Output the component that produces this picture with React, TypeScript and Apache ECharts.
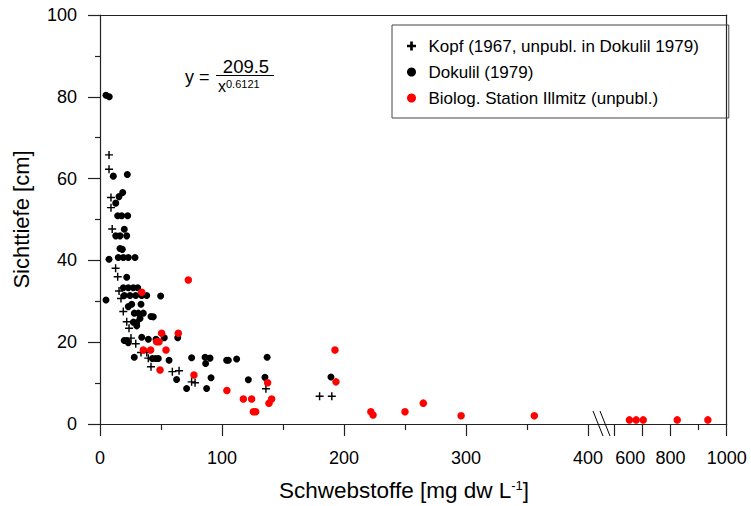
import React, { useEffect, useRef } from "react";
import * as echarts from "echarts";

const FONT = "'Liberation Sans', Arial, sans-serif";

// Kopf (1967, unpubl. in Dokulil 1979)
const KOPF_X = [7.4, 7.4, 9, 9, 10, 12.8, 14.5, 15.6, 17.2, 19.1, 21.9, 23.8, 25.4, 29.3, 33.6, 38.3, 39.6, 41.8, 59.3, 64.8, 75.1, 77.9, 136, 180, 190];
const KOPF_Y = [65.8, 62.3, 55.4, 52.9, 47.7, 38.1, 36.0, 32.5, 30.7, 27.5, 25.0, 23.4, 21.0, 19.6, 17.5, 17.5, 16.1, 14.0, 12.8, 13.0, 10.3, 10.1, 8.6, 6.8, 6.8];

// Dokulil (1979)
const DOK_X = [4.9, 7.6, 10.9, 22.4, 18.6, 15.6, 12.9, 14.5, 17.8, 22.7, 19.9, 12.9, 16.4, 21.9, 16.4, 18.3, 7.4, 15.0, 19.1, 23.2, 28.7, 21.9, 19.1, 23.2, 27.3, 30.9, 4.9, 19.9, 24.6, 29.3, 34.2, 38.3, 49.7, 23.2, 26.0, 33.6, 28.1, 31.4, 35.5, 41.8, 43.7, 32.8, 27.3, 30.1, 30.1, 19.9, 21.9, 23.2, 34.2, 39.6, 45.9, 52.7, 63.7, 28.1, 42.9, 45.6, 47.8, 56.6, 75.1, 86.1, 90.2, 86.6, 103.8, 105.2, 112, 137, 62.8, 91, 121.6, 135.2, 189.3, 71, 87.4];
const DOK_Y = [80.4, 80.0, 60.6, 61.0, 56.6, 55.6, 54.0, 50.9, 50.9, 50.9, 47.6, 46.0, 46.0, 46.0, 42.9, 42.7, 40.3, 40.7, 40.7, 40.7, 40.7, 35.9, 33.3, 33.3, 33.3, 33.3, 30.3, 31.4, 31.4, 31.4, 31.4, 31.4, 31.3, 28.7, 29.3, 29.3, 27.1, 27.1, 27.1, 26.3, 26.2, 25.8, 24.9, 24.8, 24.0, 20.4, 20.4, 19.9, 21.2, 20.7, 20.7, 21.1, 21.1, 16.3, 16.0, 16.0, 16.0, 15.6, 16.2, 16.3, 16.1, 14.8, 15.6, 15.6, 15.9, 16.3, 10.9, 11.3, 10.8, 11.4, 11.5, 8.7, 8.7];

// Biolog. Station Illmitz (unpubl.) – left segment (0–410)
const BIO_X = [72.4, 34.2, 50.5, 64.2, 46.4, 48.4, 35.5, 41.5, 54.1, 49.2, 77.0, 104, 117.5, 124.3, 125.7, 127.6, 137.4, 138.5, 140.7, 192.6, 193.4, 222, 223.8, 250, 265, 296, 356];
const BIO_Y = [35.2, 32.2, 22.2, 22.2, 20.1, 20.1, 18.1, 18.1, 18.1, 13.2, 12.0, 8.2, 6.1, 6.1, 3.0, 3.0, 10.1, 5.1, 6.1, 18.1, 10.3, 3.0, 2.2, 3.0, 5.1, 2.0, 2.0];
// right segment (550–1000)
const BIO_X2 = [654, 678, 703, 824, 933];
const BIO_Y2 = [1, 1, 1, 1, 1];

const X1_MAJOR = [0, 100, 200, 300, 400];
const X1_MINOR = [50, 150, 250, 350];
const X2_MAJOR = [600, 700, 800, 1000];
const X2_MINOR = [900];
const X2_LABELS = [600, 800, 1000];

const NAME_KOPF = "Kopf (1967, unpubl. in Dokulil 1979)";
const NAME_DOK = "Dokulil (1979)";
const NAME_BIO = "Biolog. Station Illmitz (unpubl.)";

const zip = (xs: number[], ys: number[]) => xs.map((x, i) => [x, ys[i]]);

const PLUS = "path://M4.1,0H5.9V4.1H10V5.9H5.9V10H4.1V5.9H0V4.1H4.1Z";
const PLUS_BOLD = "path://M3.5,0H6.5V3.5H10V6.5H6.5V10H3.5V6.5H0V3.5H3.5Z";

const AXIS_COLOR = "#222";

export default function App() {
  const ref = useRef<HTMLDivElement>(null);
  useEffect(() => {
    const chart = echarts.init(ref.current!, null, { renderer: "svg" });
    const lineStyle = { color: AXIS_COLOR, width: 1.2 };
    const labelBase = { fontFamily: FONT, fontSize: 18, color: "#000" };
    const option: any = {
      animation: false,
      backgroundColor: "#fff",
      grid: [
        { left: 100, top: 15, width: 500.2, height: 409 },
        { left: 600.2, top: 15, width: 126.5, height: 409 },
      ],
      xAxis: [
        {
          type: "value", gridIndex: 0, position: "bottom", min: 0, max: 410,
          axisLine: { show: true, onZero: false, lineStyle },
          axisTick: { show: true, customValues: X1_MAJOR, length: 12, lineStyle },
          axisLabel: { show: true, customValues: X1_MAJOR, margin: 25, ...labelBase },
          splitLine: { show: false },
        },
        {
          type: "value", gridIndex: 0, position: "bottom", min: 0, max: 410,
          axisLine: { show: false, onZero: false },
          axisTick: { show: true, customValues: X1_MINOR, length: 6, lineStyle },
          axisLabel: { show: false },
          splitLine: { show: false },
        },
        {
          type: "value", gridIndex: 0, position: "top", min: 0, max: 410,
          axisLine: { show: true, onZero: false, lineStyle },
          axisTick: { show: false }, axisLabel: { show: false }, splitLine: { show: false },
        },
        {
          type: "value", gridIndex: 1, position: "bottom", min: 550, max: 1000,
          axisLine: { show: true, onZero: false, lineStyle },
          axisTick: { show: true, customValues: X2_MAJOR, length: 12, lineStyle },
          axisLabel: {
            show: true, customValues: X2_LABELS, margin: 25, ...labelBase,
            formatter: (v: number) => (v === 600 ? "{s|600}" : String(v)),
            rich: { s: { ...labelBase, padding: [0, 0, 0, 32] } },
          },
          splitLine: { show: false },
        },
        {
          type: "value", gridIndex: 1, position: "bottom", min: 550, max: 1000,
          axisLine: { show: false, onZero: false },
          axisTick: { show: true, customValues: X2_MINOR, length: 6, lineStyle },
          axisLabel: { show: false }, splitLine: { show: false },
        },
        {
          type: "value", gridIndex: 1, position: "top", min: 550, max: 1000,
          axisLine: { show: true, onZero: false, lineStyle },
          axisTick: { show: false }, axisLabel: { show: false }, splitLine: { show: false },
        },
      ],
      yAxis: [
        {
          type: "value", gridIndex: 0, position: "left", min: 0, max: 100, interval: 20,
          axisLine: { show: true, onZero: false, lineStyle },
          axisTick: { show: true, length: 12, lineStyle },
          minorTick: { show: true, splitNumber: 2, length: 5, lineStyle },
          axisLabel: { margin: 23, ...labelBase },
          splitLine: { show: false },
          minorSplitLine: { show: false },
          name: "Sichttiefe [cm]",
          nameLocation: "middle",
          nameGap: 68,
          nameTextStyle: { fontFamily: FONT, fontSize: 22, color: "#000" },
        },
        {
          type: "value", gridIndex: 1, position: "right", min: 0, max: 100,
          axisLine: { show: true, onZero: false, lineStyle },
          axisTick: { show: false }, axisLabel: { show: false }, splitLine: { show: false },
        },
      ],
      legend: {
        orient: "vertical",
        left: 392,
        top: 25,
        itemWidth: 24,
        itemHeight: 9,
        itemGap: 8,
        padding: [12, 30, 11, 15],
        borderColor: "#444",
        borderWidth: 1,
        selectedMode: false,
        textStyle: { fontFamily: FONT, fontSize: 17, color: "#000", lineHeight: 18 },
        data: [
          { name: NAME_KOPF, icon: PLUS_BOLD, itemStyle: { color: "#000", opacity: 1 } },
          { name: NAME_DOK, icon: "circle", itemStyle: { color: "#000", opacity: 1 } },
          { name: NAME_BIO, icon: "circle", itemStyle: { color: "#ff0000", opacity: 1 } },
        ],
      },
      series: [
        {
          name: NAME_KOPF, type: "scatter", xAxisIndex: 0, yAxisIndex: 0,
          symbol: PLUS, symbolSize: 8, symbolKeepAspect: true,
          itemStyle: { color: "#000", opacity: 1 }, data: zip(KOPF_X, KOPF_Y), z: 3,
        },
        {
          name: NAME_DOK, type: "scatter", xAxisIndex: 0, yAxisIndex: 0,
          symbol: "circle", symbolSize: 7,
          itemStyle: { color: "#000", opacity: 1 }, data: zip(DOK_X, DOK_Y), z: 2,
        },
        {
          name: NAME_BIO, type: "scatter", xAxisIndex: 0, yAxisIndex: 0,
          symbol: "circle", symbolSize: 7.5,
          itemStyle: { color: "#ff0000", opacity: 1 }, data: zip(BIO_X, BIO_Y), z: 4,
        },
        {
          name: NAME_BIO, type: "scatter", xAxisIndex: 3, yAxisIndex: 1,
          symbol: "circle", symbolSize: 7.5,
          itemStyle: { color: "#ff0000", opacity: 1 }, data: zip(BIO_X2, BIO_Y2), z: 4,
        },
      ],
      graphic: [
        { type: "line", shape: { x1: 593, y1: 411, x2: 603, y2: 436 }, style: { stroke: "#000", lineWidth: 1 }, z: 10 },
        { type: "line", shape: { x1: 600, y1: 411, x2: 610, y2: 436 }, style: { stroke: "#000", lineWidth: 1 }, z: 10 },
        {
          type: "text", x: 404, y: 490,
          style: {
            text: "Schwebstoffe [mg dw L{sup|-1}]",
            fontFamily: FONT, fontSize: 22.5, fill: "#000",
            align: "center", verticalAlign: "middle", textAlign: "center", textVerticalAlign: "middle",
            rich: { sup: { fontFamily: FONT, fontSize: 13, fill: "#000", verticalAlign: "top" } },
          },
        },
        {
          type: "text", x: 185, y: 77,
          style: { text: "y =", fontFamily: FONT, fontSize: 18, fill: "#000", verticalAlign: "middle", textVerticalAlign: "middle" },
        },
        {
          type: "text", x: 246, y: 66,
          style: { text: "209.5", fontFamily: FONT, fontSize: 18.5, fill: "#000", align: "center", textAlign: "center", verticalAlign: "middle", textVerticalAlign: "middle" },
        },
        { type: "line", shape: { x1: 216, y1: 75.5, x2: 274, y2: 75.5 }, style: { stroke: "#000", lineWidth: 1 } },
        {
          type: "text", x: 218, y: 86,
          style: {
            text: "x{sup|0.6121}",
            fontFamily: FONT, fontSize: 16, fill: "#000", verticalAlign: "middle", textVerticalAlign: "middle",
            rich: { sup: { fontFamily: FONT, fontSize: 11, fill: "#000", verticalAlign: "top" } },
          },
        },
      ],
    };
    chart.setOption(option);
    return () => chart.dispose();
  }, []);
  return <div ref={ref} style={{ position: "fixed", left: 0, top: 0, width: 751, height: 506 }} />;
}
